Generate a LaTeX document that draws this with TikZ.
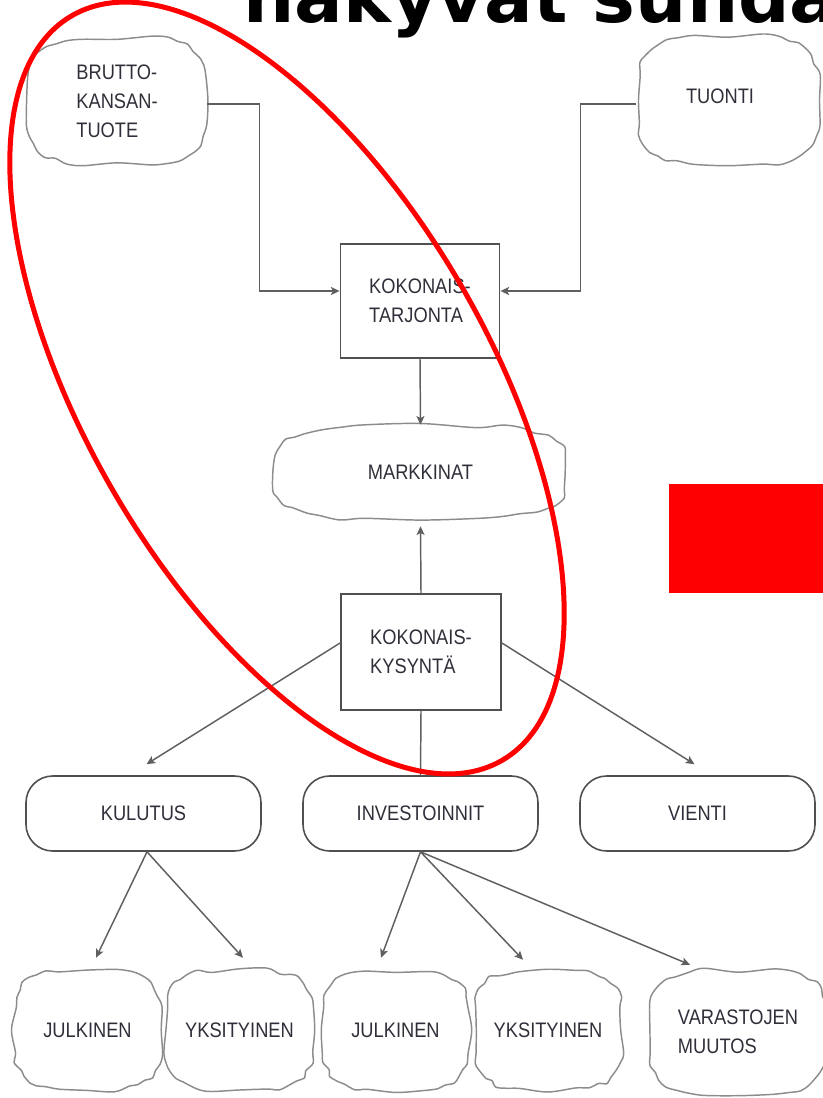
\documentclass[tikz,border=0pt]{standalone}
\usepackage{fontspec}
\setmainfont{Liberation Sans}
\newfontfamily\condfont[FakeStretch=0.87]{Liberation Sans}
\newfontfamily\titlefont{DejaVu Sans}
\usetikzlibrary{arrows.meta,calc}
\definecolor{txt}{HTML}{2F2F3A}
\definecolor{boxline}{HTML}{505050}
\definecolor{cloudline}{HTML}{8C8C8C}
\definecolor{arrline}{HTML}{5F5F5F}
\definecolor{hlred}{HTML}{FF0000}
\newcommand\blobline[5]{%
  \pgfmathsetseed{#5}%
  \draw[cloudstroke] plot[smooth cycle, tension=0.55, domain=0:350, samples=36, variable=\t]
    ({#1+(#3+2.5*rand)*cos(\t)*(abs(cos(\t))+0.002)^(-0.45)},
     {#2+(#4+2.5*rand)*sin(\t)*(abs(sin(\t))+0.002)^(-0.45)});}
\tikzset{
  lbl/.style={font=\condfont\fontsize{15.75pt}{21.75pt}\selectfont, text=txt, align=left, inner sep=0pt},
  cloudnode/.style={lbl},
  cloudstroke/.style={draw=cloudline, line width=1.1pt},
  sqbox/.style={lbl, draw=boxline, line width=1.4pt},
  rbox/.style={lbl, draw=boxline, line width=1.2pt, rounded corners=20pt, minimum width=176.25pt, minimum height=56.25pt},
  conn/.style={draw=arrline, line width=1.1pt},
  arr/.style={conn, -{Stealth[length=6.5pt,width=6pt,inset=1.5pt]}},
}
\begin{document}
\begin{tikzpicture}[x=0.75pt,y=-0.75pt]
\useasboundingbox (0,0) rectangle (823,1098);
\clip (0,0) rectangle (823,1098);

% title (cut off at the top)
\node[anchor=base west, inner sep=0pt, font=\titlefont\bfseries\fontsize{54pt}{58pt}\selectfont] (title) at (243,23) {näkyvät suhda};

% cloud outlines
\blobline{117}{101}{90}{64}{11}
\blobline{728}{100}{91}{65}{7}
\blobline{420.5}{472.5}{147}{47}{5}
\blobline{87.5}{1030}{74}{60}{21}
\blobline{239.5}{1030}{74}{60}{33}
\blobline{395.5}{1030}{74}{60}{41}
\blobline{548}{1030}{74}{60}{53}
\blobline{738}{1032}{90}{62}{67}

% cloud nodes
\node[cloudnode, minimum width=135pt, minimum height=96pt] (bnp) at (117,101) {BRUTTO-\\KANSAN-\\TUOTE};
\node[cloudnode, minimum width=137.25pt, minimum height=97.5pt] (tuonti) at (728,100) {\raisebox{6pt}{TUONTI}\hspace{12pt}};
\node[cloudnode, minimum width=221.25pt, minimum height=71.25pt] (mark) at (420.5,472.5) {MARKKINAT};
\node[cloudnode, minimum width=111.75pt, minimum height=90pt] (jul1) at (87.5,1030) {JULKINEN};
\node[cloudnode, minimum width=111.75pt, minimum height=90pt] (yks1) at (239.5,1030) {YKSITYINEN};
\node[cloudnode, minimum width=111.75pt, minimum height=90pt] (jul2) at (395.5,1030) {JULKINEN};
\node[cloudnode, minimum width=111.75pt, minimum height=90pt] (yks2) at (548,1030) {YKSITYINEN};
\node[cloudnode, minimum width=135pt, minimum height=93pt] (var) at (738,1032) {VARASTOJEN\\MUUTOS};

% boxes
\node[sqbox, minimum width=119.25pt, minimum height=85.5pt] (tarj) at (420,301) {KOKONAIS-\\TARJONTA};
\node[sqbox, minimum width=120pt, minimum height=87pt] (kys) at (421,652) {KOKONAIS-\\KYSYNTÄ};
\node[rbox] (kul) at (143.5,813.5) {KULUTUS};
\node[rbox] (inv) at (420.5,813.5) {INVESTOINNIT};
\node[rbox] (vie) at (697.5,813.5) {VIENTI};

% connectors
\draw[arr] ($(bnp.east)+(0,3)$) -- ++(52,0) |- ($(tarj.west)+(0,-10)$);
\draw[arr] ($(tuonti.west)+(0,4)$) -- ++(-56,0) |- ($(tarj.east)+(0,-10)$);
\draw[arr] (tarj.south) -- (mark.north);
\draw[arr] (kys.north) -- ($(mark.south)+(0,6)$);
\draw[conn] (kys.south) -- (inv.north);
\draw[arr] ($(kys.west)+(0,-9)$) -- ($(kul.north)+(3,-11)$);
\draw[arr] ($(kys.east)+(0,-9)$) -- ($(vie.north)+(-3,-11)$);
\draw[arr] ($(kul.south)+(3.5,0)$) -- ($(jul1.north)+(8.5,-12)$);
\draw[arr] ($(kul.south)+(3.5,0)$) -- ($(yks1.north)+(3.5,-12)$);
\draw[arr] (inv.south) -- ($(jul2.north)+(-14.5,-12)$);
\draw[arr] (inv.south) -- ($(yks2.north)+(-25,-10)$);
\draw[arr] (inv.south) -- ($(var.north)+(-48,-5)$);

% red highlights
\fill[hlred] (669,484) rectangle (823,593);
\draw[hlred, line width=3.75pt, rotate around={-60:(287,388)}] (287,388) ellipse [x radius=430, y radius=202];
\end{tikzpicture}
\end{document}
